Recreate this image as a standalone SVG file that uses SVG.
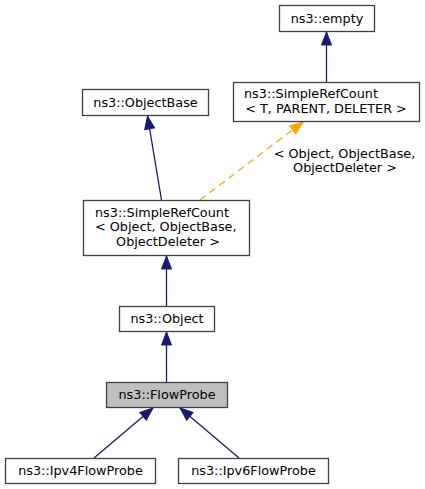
<svg xmlns="http://www.w3.org/2000/svg" width="425" height="489" viewBox="0 0 425 489">
<style>
.n rect{fill:#ffffff;stroke:#404040;stroke-width:1.3}
.n.cur rect{fill:#bfbfbf}
text{font-family:"DejaVu Sans","Liberation Sans",sans-serif;font-size:12.8px;fill:#000000}
.m{text-anchor:middle}
.s{text-anchor:start}
.e{stroke:#191970;stroke-width:1.3;fill:none}
.d{stroke:#ffa500;stroke-width:1.3;fill:none;stroke-dasharray:7,5}
</style>
<defs>
<marker id="ab" viewBox="-1 -6 15 12" refX="13" refY="0" markerWidth="15" markerHeight="12" markerUnits="userSpaceOnUse" orient="auto">
<path d="M0,-5 L13,0 L0,5 Z" fill="#191970" stroke="#191970" stroke-width="1"/>
</marker>
<marker id="ao" viewBox="-1 -6 15 12" refX="13" refY="0" markerWidth="15" markerHeight="12" markerUnits="userSpaceOnUse" orient="auto">
<path d="M0,-5 L13,0 L0,5 Z" fill="#ffa500" stroke="#ffa500" stroke-width="1"/>
</marker>
</defs>
<g id="edges">
<line class="e" x1="326.5" y1="82" x2="326.5" y2="32" marker-end="url(#ab)"/>
<line class="e" x1="161.5" y1="200" x2="147.5" y2="116" marker-end="url(#ab)"/>
<line class="d" x1="200" y1="200" x2="303" y2="122" marker-end="url(#ao)"/>
<text class="m" x="344.5" y="158">&lt; Object, ObjectBase,</text>
<text class="m" x="345" y="172">ObjectDeleter &gt;</text>
<line class="e" x1="166.5" y1="306" x2="166.5" y2="256" marker-end="url(#ab)"/>
<line class="e" x1="166.5" y1="382" x2="166.5" y2="332" marker-end="url(#ab)"/>
<line class="e" x1="94" y1="458" x2="153" y2="408" marker-end="url(#ab)"/>
<line class="e" x1="239" y1="458" x2="180" y2="408" marker-end="url(#ab)"/>
</g>
<g id="node-empty" class="n">
<rect x="279.5" y="5.5" width="95" height="26"/>
<text class="m" x="327" y="23">ns3::empty</text>
</g>
<g id="node-simplerefcount-t" class="n">
<rect x="233.5" y="82.5" width="186" height="39"/>
<text class="s" x="244" y="98">ns3::SimpleRefCount</text>
<text class="m" x="326" y="113">&lt; T, PARENT, DELETER &gt;</text>
</g>
<g id="node-objectbase" class="n">
<rect x="82.5" y="89.5" width="126" height="26"/>
<text class="m" x="145.5" y="107">ns3::ObjectBase</text>
</g>
<g id="node-simplerefcount-object" class="n">
<rect x="83.5" y="200.5" width="166" height="55"/>
<text class="s" x="95" y="217">ns3::SimpleRefCount</text>
<text class="s" x="95" y="231">&lt; Object, ObjectBase,</text>
<text class="m" x="168" y="246">ObjectDeleter &gt;</text>
</g>
<g id="node-object" class="n">
<rect x="119.5" y="306.5" width="95" height="25"/>
<text class="m" x="167" y="323">ns3::Object</text>
</g>
<g id="node-flowprobe" class="n cur">
<rect x="106.5" y="382.5" width="121" height="25"/>
<text class="m" x="167" y="399">ns3::FlowProbe</text>
</g>
<g id="node-ipv4flowprobe" class="n">
<rect x="5.5" y="458.5" width="150" height="25"/>
<text class="m" x="80.5" y="475">ns3::Ipv4FlowProbe</text>
</g>
<g id="node-ipv6flowprobe" class="n">
<rect x="178.5" y="458.5" width="150" height="25"/>
<text class="m" x="253.5" y="475">ns3::Ipv6FlowProbe</text>
</g>
</svg>
